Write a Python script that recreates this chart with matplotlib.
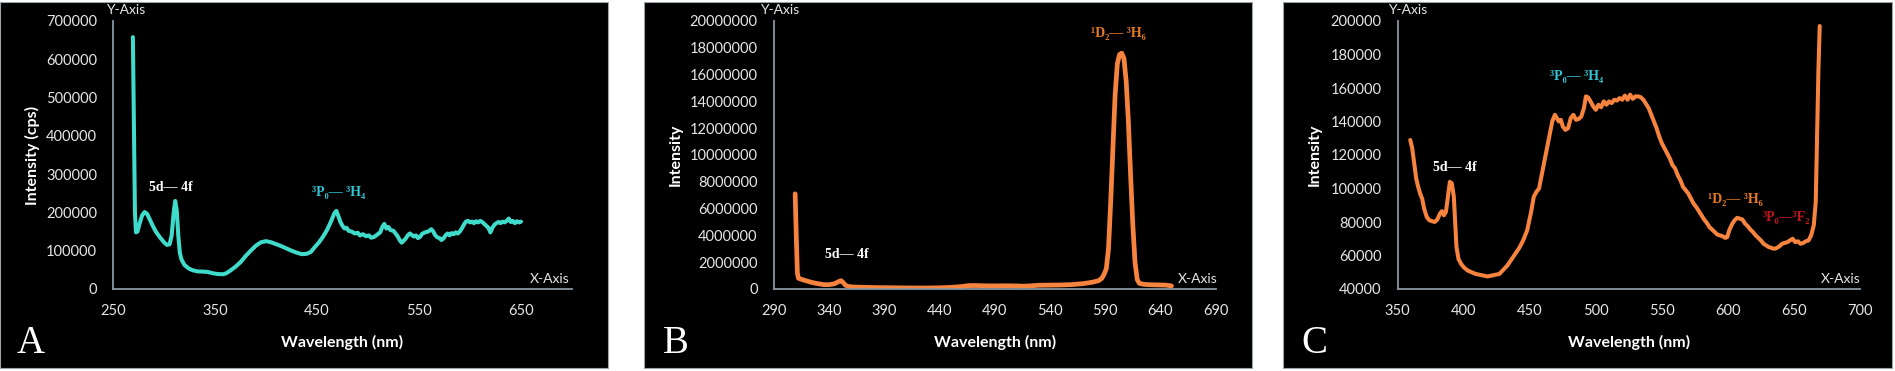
import matplotlib
matplotlib.use("Agg")
import matplotlib.pyplot as plt
from matplotlib.patches import Rectangle

W, H = 1895, 371

# ---- panel A : cyan spectrum ----
a_wl = [269.5, 270.5, 271.5, 272.5, 274, 276, 278.5, 281, 283.5, 286, 289, 292, 296, 300, 303,
        305.5, 307.5, 309.5, 311, 312.5, 314, 315.5, 317, 320, 324, 328, 333, 338, 343, 348,
        353, 358, 361, 365, 370, 375, 380, 385, 390, 395, 400, 405, 410, 415, 420, 425, 430,
        435, 440, 444, 448, 452, 456, 460, 464, 467, 469, 471, 473, 475, 477, 479, 481, 484,
        487, 490, 492, 495, 498, 501, 503, 506, 509, 512, 514, 516, 518, 520, 522, 525, 527,
        529, 531, 533, 535, 537, 539, 541, 543, 545, 547, 549, 551, 553, 556, 559, 562, 564,
        566, 568, 570, 572, 574, 576, 578, 580, 582, 584, 586, 588, 590, 592, 594, 596, 598,
        600, 602, 604, 606, 608, 610, 612, 614, 616, 618, 620, 622, 624, 626, 628, 630, 632,
        634, 636, 638, 640, 642, 644, 646, 648, 650]
a_int = [658000, 420000, 200000, 148000, 150000, 170000, 192000, 201000, 196000, 182000, 165000,
         150000, 135000, 122000, 115000, 117000, 140000, 200000, 230000, 205000, 140000, 95000,
         78000, 63000, 54000, 49000, 46000, 45500, 44500, 41000, 39000, 38500, 41000, 48000,
         58000, 70000, 86000, 100000, 113000, 122000, 125000, 122000, 117000, 112000, 106000,
         100000, 95000, 91000, 92000, 97000, 110000, 122000, 137000, 155000, 178000, 198000,
         204000, 190000, 175000, 165000, 158000, 160000, 152000, 150000, 145000, 147000, 140000,
         143000, 138000, 140000, 134000, 136000, 142000, 148000, 162000, 170000, 158000, 162000,
         154000, 152000, 145000, 138000, 128000, 121000, 126000, 132000, 140000, 145000, 141000,
         137000, 140000, 133000, 136000, 144000, 148000, 150000, 156000, 150000, 140000, 135000,
         133000, 128000, 132000, 140000, 145000, 140000, 146000, 143000, 148000, 145000, 150000,
         158000, 168000, 176000, 178000, 174000, 176000, 172000, 177000, 174000, 178000, 175000,
         170000, 165000, 160000, 148000, 160000, 168000, 172000, 175000, 172000, 176000, 174000,
         178000, 184000, 175000, 178000, 172000, 177000, 174000, 176000]

# ---- panel B : orange spectrum ----
b_wl = [309.5, 310.5, 311.5, 312.5, 316, 320, 325, 330, 335, 340, 345, 349, 351, 353, 355, 358,
        362, 370, 380, 390, 400, 410, 420, 430, 440, 450, 460, 466, 472, 480, 490, 500, 510,
        517, 523, 530, 540, 550, 560, 570, 578, 584, 587, 589, 591, 593, 595, 597, 599, 601,
        603, 605, 607, 609, 611, 613, 615, 617, 619, 621, 625, 630, 640, 645, 650]
b_int = [7100000, 4000000, 1200000, 800000, 700000, 600000, 480000, 400000, 330000, 320000,
         390000, 560000, 620000, 480000, 280000, 180000, 150000, 130000, 110000, 100000, 90000,
         80000, 75000, 75000, 90000, 120000, 180000, 250000, 260000, 240000, 230000, 240000,
         230000, 210000, 240000, 280000, 290000, 300000, 330000, 400000, 500000, 620000, 800000,
         1100000, 1500000, 3000000, 6500000, 10500000, 14500000, 16800000, 17500000, 17600000,
         17200000, 15500000, 12500000, 8500000, 4800000, 2000000, 700000, 420000, 350000,
         320000, 300000, 290000, 230000]

# ---- panel C : orange spectrum ----
c_wl = [359.5, 361, 362.5, 364, 365.5, 367, 368.5, 370, 372, 374, 376, 378, 380, 382, 383.5, 385,
        386.5, 388, 389.5, 391, 392.5, 393.5, 394.5, 396, 398, 400, 403, 406, 409, 412, 415, 418,
        421, 424, 427, 430, 433, 436, 439, 442, 445, 448, 451, 453, 455, 457, 459, 461, 463, 465,
        467, 469, 470.5, 472, 473.5, 475, 477, 479, 481, 483, 485, 487, 489, 491, 492.5, 494,
        496, 498, 500, 502, 504, 506, 508, 510, 512, 514, 516, 518, 520, 522, 524, 526, 528,
        530, 532, 534, 536, 538, 540, 542, 544, 546, 548, 550, 552, 554, 556, 558, 560, 562,
        564, 566, 568, 570, 572, 574, 576, 578, 580, 582, 584, 586, 588, 590, 592, 594, 596,
        598, 599.5, 601, 603, 605, 607, 609, 611, 613, 615, 617, 619, 621, 623, 625, 627, 629,
        631, 633, 635, 637, 639, 641, 643, 645, 647, 649, 651, 653, 655, 657, 659, 661, 663,
        665, 666.5, 667.5, 668.5, 669.5]
c_int = [129000, 124000, 115000, 106000, 101000, 97000, 94000, 88000, 83000, 81000, 80500, 80000,
         81500, 85000, 86500, 84000, 86000, 95000, 104000, 103000, 95000, 80000, 65000, 58000,
         55000, 53000, 51000, 50000, 49000, 48500, 48000, 47500, 48000, 48500, 49000, 51500,
         54000, 57500, 61000, 64500, 69000, 75000, 86000, 95000, 98000, 100000, 108000, 116000,
         124000, 132000, 140000, 144000, 142000, 140000, 141000, 137000, 135000, 136000, 142000,
         144000, 141000, 141500, 143000, 148000, 155000, 154500, 152000, 149000, 147000, 150000,
         148500, 152000, 150000, 152000, 151000, 153000, 152500, 154000, 153000, 155500, 153000,
         156000, 153500, 155000, 155000, 154500, 153000, 150500, 148000, 144000, 140000, 136000,
         131000, 127000, 124000, 121000, 118000, 114000, 112000, 108000, 105000, 101000, 99000,
         97000, 94000, 91000, 89000, 86500, 84000, 81500, 79500, 77000, 75500, 74000, 72500,
         72000, 71500, 70500, 71000, 75000, 78500, 81000, 82500, 82000, 81500, 79000, 77500,
         75500, 74000, 72000, 70500, 69000, 67000, 66000, 65000, 64500, 64000, 64500, 65500,
         67000, 67500, 68000, 69000, 70000, 68000, 68500, 67000, 67500, 68500, 69000, 72000,
         78000, 92000, 130000, 170000, 197000]

a_xticks = [250, 350, 450, 550, 650]
a_yticks = list(range(0, 700001, 100000))
b_xticks = list(range(290, 691, 50))
b_yticks = list(range(0, 20000001, 2000000))
c_xticks = list(range(350, 701, 50))
c_yticks = list(range(40000, 200001, 20000))

CYAN = "#40dccb"
ORANGE = "#f7843e"
TXT_CYAN = "#33c6d6"
TXT_ORANGE = "#ea7a22"
TXT_RED = "#c8141c"
AXCOL = "#8797a3"
SANS = ["Lato", "DejaVu Sans"]
SERIF = ["Liberation Serif", "DejaVu Serif"]


def fx(x):
    return x / W


def fy(y):
    return 1 - y / H


fig = plt.figure(figsize=(W / 100, H / 100), dpi=100, facecolor="white")

# black panel backgrounds (behind the axes)
for x0, x1 in [(0, 608), (644, 1252), (1283, 1892)]:
    fig.patches.append(Rectangle((fx(x0), fy(368)), fx(x1) - fx(x0), fy(2) - fy(368),
                                 transform=fig.transFigure, facecolor="black",
                                 edgecolor="#9aa4aa", lw=0.8, zorder=-10))


def make_panel(left, right, xlim, ylim, xticks, yticks, wl, vals, color, lw, ylab,
               ylab_x, letter, letter_x, yaxis_x, xaxis_x):
    ax = fig.add_axes([fx(left), fy(289), fx(right) - fx(left), fy(21) - fy(289)])
    ax.patch.set_alpha(0)
    ax.plot(wl, vals, color=color, lw=lw, solid_capstyle="round", solid_joinstyle="round")
    ax.set_xlim(*xlim)
    ax.set_ylim(*ylim)
    ax.set_xticks(xticks)
    ax.set_yticks(yticks)
    ax.set_xticklabels([str(t) for t in xticks])
    ax.set_yticklabels([str(t) for t in yticks])
    for s in ["top", "right"]:
        ax.spines[s].set_visible(False)
    for s in ["left", "bottom"]:
        ax.spines[s].set_color(AXCOL)
        ax.spines[s].set_linewidth(1.3)
    ax.tick_params(length=0, colors="#e6e6e6", labelsize=10.5)
    ax.tick_params(axis="y", pad=11.5)
    ax.tick_params(axis="x", pad=11)
    for lab in ax.get_xticklabels() + ax.get_yticklabels():
        lab.set_family(SANS)
    fig.text(fx(ylab_x), fy(155), ylab, rotation=90, ha="center", va="center",
             color="white", fontsize=11.5, fontweight="bold", family=SANS)
    fig.text(fx((left + right) / 2), fy(342), "Wavelength (nm)", ha="center", va="center",
             color="white", fontsize=11.5, fontweight="bold", family=SANS)
    fig.text(fx(letter_x), fy(353), letter, ha="left", va="baseline", color="white",
             fontsize=28, family=SERIF)
    fig.text(fx(yaxis_x), fy(10), "Y-Axis", ha="left", va="center", color="#e6e6e6",
             fontsize=10, family=SANS)
    fig.text(fx(xaxis_x), fy(279), "X-Axis", ha="left", va="center", color="#e6e6e6",
             fontsize=10, family=SANS)
    return ax


ann = dict(fontsize=10, fontweight="bold", family=SERIF, ha="left", va="center")

axA = make_panel(113, 572, (250, 700), (0, 700000), a_xticks, a_yticks, a_wl, a_int, CYAN, 2.9,
                 "Intensity (cps)", 32, "A", 17, 106, 530)
axA.text(285, 264000, "5d\u2014 4f", color="white", **ann)
axA.text(445, 251000, "\u00b3P\u2080\u2014 \u00b3H\u2084", color=TXT_CYAN, **ann)

axB = make_panel(773.6, 1215.7, (290, 690), (0, 20000000), b_xticks, b_yticks, b_wl, b_int,
                 ORANGE, 3.4, "Intensity", 676, "B", 663, 760, 1178)
axB.text(336.5, 2540000, "5d\u2014 4f", color="white", **ann)
axB.text(577, 19100000, "\u00b9D\u2082\u2014 \u00b3H\u2086", color=TXT_ORANGE, **ann)

axC = make_panel(1397.7, 1860, (350, 700), (40000, 200000), c_xticks, c_yticks, c_wl, c_int,
                 ORANGE, 2.9, "Intensity", 1315, "C", 1301, 1388, 1821)
axC.text(376.7, 112800, "5d\u2014 4f", color="white", **ann)
axC.text(465, 167000, "\u00b3P\u2080\u2014 \u00b3H\u2084", color=TXT_CYAN, **ann)
axC.text(585, 93700, "\u00b9D\u2082\u2014 \u00b3H\u2086", color=TXT_ORANGE, **ann)
axC.text(626.5, 82400, "\u00b3P\u2080\u2014\u00b3F\u2082", color=TXT_RED, **ann)

fig.savefig("out.png", dpi=100, facecolor="white")
